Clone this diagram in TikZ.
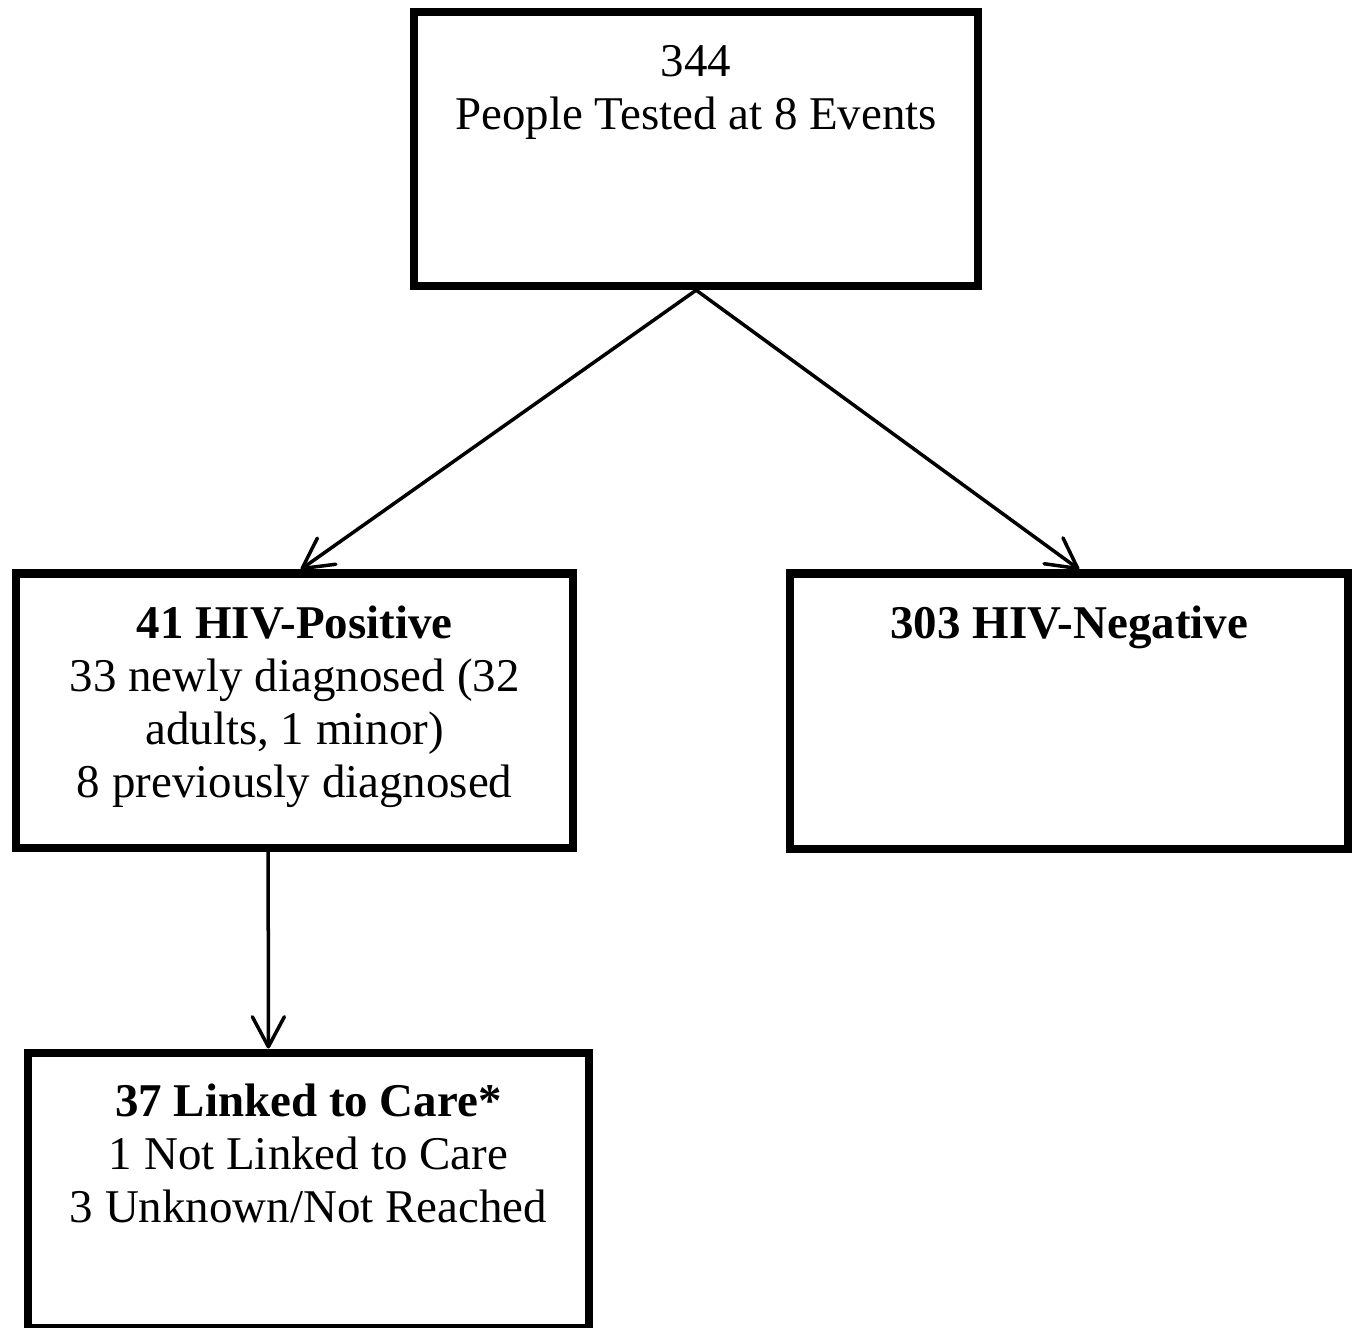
\documentclass[tikz,border=0pt]{standalone}
\usepackage{fontspec}
\setmainfont{Liberation Serif}
\usetikzlibrary{arrows.meta, positioning}

\begin{document}
\begin{tikzpicture}[x=0.01cm, y=-0.01cm,
        flowbox/.style={draw=black, line width=0.08cm, inner sep=0pt, anchor=north west},
        boxtext/.style={anchor=north, align=center, inner sep=0pt, font=\fontsize{13.35}{15}\selectfont},
        flowarrow/.style={-{Straight Barb[length=0.3cm, width=0.32cm, round]}, line width=0.035cm, line cap=round}]
        \useasboundingbox (0, 0) rectangle (1358, 1328);

        % boxes
        \node[flowbox, minimum width=5.64cm, minimum height=2.735cm] (tested) at (410, 8.5) {};
        \node[flowbox, minimum width=5.57cm, minimum height=2.745cm] (pos) at (12, 569.5) {};
        \node[flowbox, minimum width=5.58cm, minimum height=2.755cm] (neg) at (786, 569.5) {};
        \node[flowbox, minimum width=5.615cm, minimum height=2.755cm] (linked) at (23.5, 1048.5) {};

        % texts
        \node[boxtext] (testedtext) at ([yshift=-0.36cm]tested.north) {344\\People Tested at 8 Events};
        \node[boxtext] (postext) at ([yshift=-0.36cm]pos.north) {\textbf{41 HIV-Positive}\\33 newly diagnosed (32\\adults, 1 minor)\\8 previously diagnosed};
        \node[boxtext] (negtext) at ([yshift=-0.36cm]neg.north) {\textbf{303 HIV-Negative}};
        \node[boxtext] (linkedtext) at ([yshift=-0.35cm]linked.north) {\textbf{37 Linked to Care*}\\1 Not Linked to Care\\3 Unknown/Not Reached};

        % arrows
        \draw[flowarrow] (tested.south) -- ([xshift=0.06cm]pos.north);
        \draw[flowarrow] (tested.south) -- ([xshift=0.1cm]neg.north);
        \draw[flowarrow] ([xshift=-0.265cm]pos.south) -- ([xshift=-0.4cm]linked.north);
\end{tikzpicture}
\end{document}
